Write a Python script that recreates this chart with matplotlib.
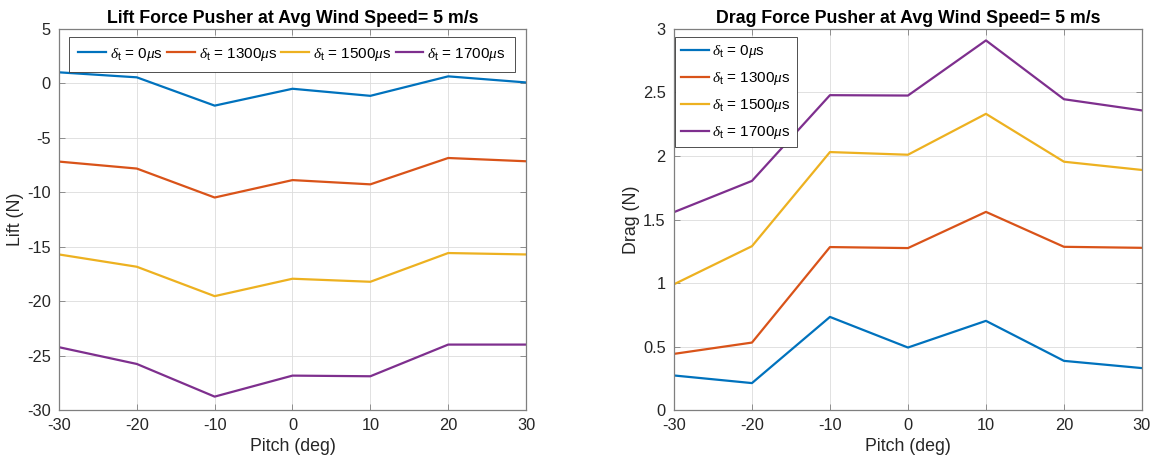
import matplotlib
matplotlib.use('Agg')
import matplotlib.pyplot as plt
from matplotlib.ticker import FormatStrFormatter

plt.rcParams['font.family'] = ['Liberation Sans', 'DejaVu Sans']
plt.rcParams['axes.unicode_minus'] = False
plt.rcParams['mathtext.fontset'] = 'custom'
plt.rcParams['mathtext.rm'] = 'Liberation Sans'
plt.rcParams['mathtext.it'] = 'Liberation Serif:italic'

# data
pitch = [-30, -20, -10, 0, 10, 20, 30]
series_names = [r'$\delta_{\rm t}$ = 0$\mu$s', r'$\delta_{\rm t}$ = 1300$\mu$s',
                r'$\delta_{\rm t}$ = 1500$\mu$s', r'$\delta_{\rm t}$ = 1700$\mu$s']
colors = ['#0072BD', '#D95319', '#EDB120', '#7E2F8E']

lift_0 = [1.02, 0.56, -2.04, -0.49, -1.14, 0.65, 0.09]
lift_1300 = [-7.18, -7.82, -10.48, -8.88, -9.27, -6.85, -7.15]
lift_1500 = [-15.71, -16.84, -19.54, -17.94, -18.22, -15.58, -15.71]
lift_1700 = [-24.23, -25.77, -28.77, -26.84, -26.90, -23.99, -23.99]

drag_0 = [0.272, 0.212, 0.733, 0.492, 0.702, 0.387, 0.330]
drag_1300 = [0.442, 0.531, 1.283, 1.275, 1.560, 1.285, 1.277]
drag_1500 = [0.990, 1.290, 2.031, 2.010, 2.332, 1.955, 1.890]
drag_1700 = [1.558, 1.804, 2.479, 2.476, 2.910, 2.447, 2.359]

lift = [lift_0, lift_1300, lift_1500, lift_1700]
drag = [drag_0, drag_1300, drag_1500, drag_1700]

txt = '#262626'
spine = '#7f7f7f'

fig = plt.figure(figsize=(11.63, 4.61), dpi=100)
ax1 = fig.add_axes([0.0507, 0.1106, 0.4016, 0.8265])
ax2 = fig.add_axes([0.5795, 0.1106, 0.4024, 0.8265])


def style(ax):
    ax.set_xlim(-30, 30)
    ax.set_xticks(pitch)
    ax.grid(True, color='#dcdcdc', linewidth=0.6)
    ax.set_axisbelow(True)
    ax.tick_params(direction='in', length=4, width=0.6, colors=spine,
                   labelcolor=txt, labelsize=11.8, top=True, right=True, pad=6)
    for s in ax.spines.values():
        s.set_color(spine)
        s.set_linewidth(0.9)
    ax.set_xlabel('Pitch (deg)', fontsize=12.8, color=txt, labelpad=3)


def legend_box(leg):
    leg.get_frame().set_edgecolor('#333333')
    leg.get_frame().set_linewidth(0.6)


for vals, c, n in zip(lift, colors, series_names):
    ax1.plot(pitch, vals, color=c, linewidth=1.6, label=n)
style(ax1)
ax1.set_ylim(-30, 5)
ax1.set_yticks(range(-30, 6, 5))
ax1.set_ylabel('Lift (N)', fontsize=12.8, color=txt, labelpad=2)
ax1.set_title('Lift Force Pusher at Avg Wind Speed= 5 m/s', fontsize=12.8,
              fontweight='bold', color='black', pad=4)
leg1 = ax1.legend(loc='upper left', bbox_to_anchor=(0.022, 0.98), ncol=4,
                  fontsize=11, frameon=True, fancybox=False, framealpha=1,
                  handlelength=1.8, handletextpad=0.25, columnspacing=0.3,
                  borderpad=0.6, borderaxespad=0)
legend_box(leg1)

for vals, c, n in zip(drag, colors, series_names):
    ax2.plot(pitch, vals, color=c, linewidth=1.6, label=n)
style(ax2)
ax2.set_ylim(0, 3)
ax2.set_yticks([0, 0.5, 1, 1.5, 2, 2.5, 3])
ax2.yaxis.set_major_formatter(FormatStrFormatter('%g'))
ax2.set_ylabel('Drag (N)', fontsize=12.8, color=txt, labelpad=2)
ax2.set_title('Drag Force Pusher at Avg Wind Speed= 5 m/s', fontsize=12.8,
              fontweight='bold', color='black', pad=4)
leg2 = ax2.legend(loc='upper left', bbox_to_anchor=(0.002, 0.978), ncol=1,
                  fontsize=11, frameon=True, fancybox=False, framealpha=1,
                  handlelength=1.8, handletextpad=0.25, labelspacing=0.65,
                  borderpad=0.4, borderaxespad=0)
legend_box(leg2)

fig.savefig('out.png', dpi=100)
